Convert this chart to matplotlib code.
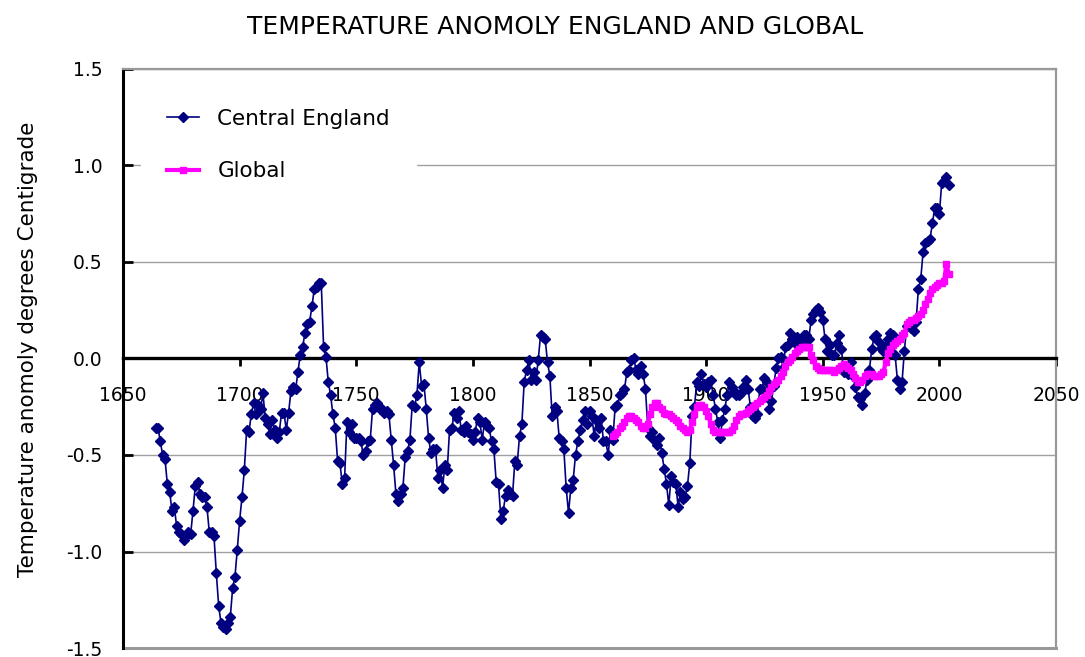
import numpy as np
import matplotlib
matplotlib.use("Agg")
import matplotlib.pyplot as plt

plt.rcParams["font.family"] = ["DejaVu Sans"]

# Central England anomaly, one value per year from 1664
cet_start = 1664
cet = [
    -0.36, -0.36, -0.43, -0.50, -0.52, -0.65, -0.69, -0.79, -0.77, -0.87,
    -0.90, -0.91, -0.94, -0.92, -0.90, -0.91, -0.79, -0.66, -0.64, -0.70,
    -0.72, -0.72, -0.77, -0.90, -0.90, -0.92, -1.11, -1.28, -1.37, -1.39,
    -1.40, -1.37, -1.34, -1.19, -1.13, -0.99, -0.84, -0.72, -0.58, -0.37,
    -0.38, -0.29, -0.23, -0.29, -0.24, -0.26, -0.18, -0.31, -0.34, -0.39,
    -0.32, -0.37, -0.41, -0.38, -0.28, -0.28, -0.37, -0.28, -0.17, -0.15,
    -0.16, -0.07, 0.02, 0.06, 0.13, 0.18, 0.19, 0.27, 0.36, 0.37,
    0.39, 0.39, 0.06, 0.01, -0.12, -0.19, -0.29, -0.36, -0.53, -0.54,
    -0.65, -0.62, -0.33, -0.38, -0.34, -0.41, -0.41, -0.41, -0.43, -0.50,
    -0.48, -0.43, -0.42, -0.26, -0.24, -0.23, -0.26, -0.26, -0.28, -0.27,
    -0.29, -0.42, -0.55, -0.70, -0.74, -0.70, -0.67, -0.51, -0.48, -0.42,
    -0.24, -0.25, -0.19, -0.02, -0.14, -0.13, -0.26, -0.41, -0.49, -0.47,
    -0.47, -0.62, -0.58, -0.67, -0.55, -0.58, -0.37, -0.36, -0.28, -0.31,
    -0.27, -0.37, -0.38, -0.35, -0.38, -0.39, -0.42, -0.38, -0.31, -0.33,
    -0.42, -0.33, -0.35, -0.36, -0.43, -0.47, -0.64, -0.65, -0.83, -0.79,
    -0.71, -0.68, -0.70, -0.71, -0.53, -0.55, -0.40, -0.34, -0.12, -0.06,
    -0.01, -0.11, -0.07, -0.11, -0.01, 0.12, 0.11, 0.10, -0.02, -0.09,
    -0.30, -0.25, -0.27, -0.41, -0.43, -0.47, -0.67, -0.80, -0.67, -0.63,
    -0.50, -0.43, -0.37, -0.32, -0.27, -0.34, -0.27, -0.30, -0.40, -0.32,
    -0.36, -0.31, -0.43, -0.43, -0.50, -0.37, -0.42, -0.25, -0.24, -0.19,
    -0.18, -0.16, -0.07, -0.06, -0.01, 0.00, -0.06, -0.08, -0.04, -0.08,
    -0.16, -0.36, -0.40, -0.38, -0.43, -0.45, -0.41, -0.49, -0.57, -0.65,
    -0.76, -0.61, -0.64, -0.65, -0.77, -0.69, -0.73, -0.72, -0.66, -0.54,
    -0.30, -0.25, -0.12, -0.14, -0.08, -0.13, -0.15, -0.12, -0.11, -0.19,
    -0.26, -0.33, -0.41, -0.32, -0.26, -0.19, -0.12, -0.15, -0.17, -0.19,
    -0.19, -0.18, -0.15, -0.11, -0.16, -0.25, -0.30, -0.31, -0.29, -0.16,
    -0.16, -0.10, -0.12, -0.26, -0.22, -0.14, -0.05, 0.00, 0.01, -0.05,
    0.06, 0.07, 0.13, 0.10, 0.08, 0.11, 0.07, 0.08, 0.12, 0.12,
    0.10, 0.20, 0.23, 0.25, 0.26, 0.24, 0.20, 0.10, 0.04, 0.07,
    0.02, 0.02, 0.08, 0.12, 0.05, -0.07, -0.06, -0.08, -0.02, -0.09,
    -0.15, -0.20, -0.21, -0.24, -0.18, -0.11, -0.06, 0.05, 0.11, 0.12,
    0.085, 0.055, 0.04, 0.064, 0.10, 0.13, 0.12, 0.02, -0.11, -0.16,
    -0.12, 0.04, 0.17, 0.17, 0.16, 0.14, 0.19, 0.36, 0.41, 0.55,
    0.60, 0.61, 0.62, 0.70, 0.78, 0.78, 0.75, 0.91, 0.92, 0.94,
    0.90,
]

# Global anomaly, one value per year from 1860
glob_start = 1860
glob = [
    -0.40, -0.39, -0.38, -0.36, -0.35, -0.33, -0.31, -0.30, -0.30, -0.31,
    -0.32, -0.33, -0.35, -0.36, -0.36, -0.34, -0.29, -0.25, -0.23, -0.23,
    -0.25, -0.26, -0.28, -0.29, -0.29, -0.30, -0.31, -0.32, -0.33, -0.35,
    -0.36, -0.37, -0.38, -0.37, -0.33, -0.29, -0.25, -0.24, -0.24, -0.25,
    -0.27, -0.30, -0.34, -0.37, -0.38, -0.38, -0.38, -0.38, -0.38, -0.38,
    -0.38, -0.37, -0.35, -0.32, -0.30, -0.29, -0.29, -0.28, -0.27, -0.26,
    -0.25, -0.24, -0.23, -0.22, -0.21, -0.20, -0.19, -0.17, -0.15, -0.13,
    -0.12, -0.11, -0.09, -0.07, -0.04, -0.02, -0.01, 0.01, 0.03, 0.04,
    0.05, 0.06, 0.06, 0.06, 0.06, 0.02, -0.01, -0.04, -0.05, -0.06,
    -0.06, -0.06, -0.06, -0.06, -0.06, -0.07, -0.06, -0.05, -0.04, -0.03,
    -0.04, -0.05, -0.06, -0.08, -0.10, -0.12, -0.12, -0.11, -0.09, -0.08,
    -0.08, -0.08, -0.09, -0.09, -0.09, -0.08, -0.07, -0.02, 0.03, 0.05,
    0.07, 0.08, 0.09, 0.10, 0.12, 0.13, 0.18, 0.19, 0.20, 0.20,
    0.21, 0.22, 0.23, 0.25, 0.28, 0.31, 0.34, 0.36, 0.37, 0.38,
    0.39, 0.39, 0.40, 0.49, 0.44,
]

cet_years = np.arange(cet_start, cet_start + len(cet))
glob_years = np.arange(glob_start, glob_start + len(glob))

x_ticks = [1650, 1700, 1750, 1800, 1850, 1900, 1950, 2000, 2050]
y_ticks = [-1.5, -1.0, -0.5, 0.0, 0.5, 1.0, 1.5]

W, H = 1085, 657
fig = plt.figure(figsize=(W / 100, H / 100), dpi=100)
ax = fig.add_axes([123 / W, 1 - 648 / H, (1056 - 123) / W, (648 - 69) / H])

ax.plot(cet_years, cet, color="#000080", lw=1.2, marker="D", ms=5.2,
        label="Central England", zorder=3)
ax.plot(glob_years, glob, color="#FF00FF", lw=3, marker="s", ms=4,
        label="Global", zorder=4)

ax.set_xlim(1650, 2050)
ax.set_ylim(-1.5, 1.5)
ax.set_xticks(x_ticks)
ax.set_yticks(y_ticks)
ax.set_yticklabels([f"{v:.1f}" for v in y_ticks])

ax.yaxis.grid(True, color="#a0a0a0", lw=1)
ax.set_axisbelow(True)

ax.spines["bottom"].set_position(("data", 0))
ax.spines["bottom"].set_color("black")
ax.spines["bottom"].set_linewidth(2.4)
ax.spines["left"].set_color("black")
ax.spines["left"].set_linewidth(2.2)
for s in ["top", "right"]:
    ax.spines[s].set_color("#999999")
    ax.spines[s].set_linewidth(1.6)
ax.axhline(-1.5, color="#999999", lw=2.2, clip_on=False, zorder=2)

ax.tick_params(axis="x", direction="out", length=6, width=2, pad=14,
               labelsize=13.5)
ax.tick_params(axis="y", direction="in", length=7, width=2, pad=14.5,
               labelsize=13.5)

fig.text(555 / W, 1 - 27 / H, "TEMPERATURE ANOMOLY ENGLAND AND GLOBAL",
         ha="center", va="center", fontsize=18)
fig.text(28 / W, 1 - 349 / H, "Temperature anomoly degrees Centigrade",
         ha="center", va="center", rotation=90, fontsize=15.5)

leg = ax.legend(loc="upper left", bbox_to_anchor=(141 / W, 1 - 83 / H),
                bbox_transform=fig.transFigure, borderaxespad=0,
                frameon=True, fancybox=False, fontsize=15.5, borderpad=1.2,
                handlelength=1.5, handletextpad=0.85, labelspacing=1.5)
leg.get_frame().set_edgecolor("white")
leg.get_frame().set_facecolor("white")
leg.get_frame().set_alpha(1)

fig.savefig("out.png", dpi=100)
